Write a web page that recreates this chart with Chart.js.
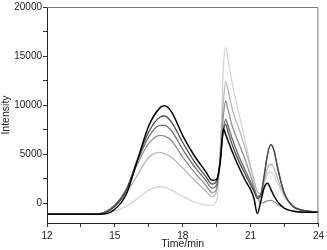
<!DOCTYPE html>
<html>
<head>
<meta charset="utf-8">
<script src="https://cdn.jsdelivr.net/npm/chart.js@4"></script>
<style>
  body { margin: 0; background: #fff; }
  #wrap { width: 327px; height: 250px; }
</style>
</head>
<body>
<div id="wrap"><canvas id="chart"></canvas></div>
<script>
const times = [12, 13, 14, 14.5, 15, 15.5, 16, 16.5, 17, 17.2, 17.5, 18, 18.5, 19, 19.3, 19.5, 19.65, 19.8, 19.9,
  20.0, 20.2, 20.5, 20.8, 21.0, 21.15, 21.3, 21.45, 21.6, 21.75, 21.9, 22.05, 22.2, 22.5, 22.9, 23.4, 24];

// six traces, darkest first
const traceBlack = [-1100, -1100, -1100, -1080, -600, 900, 4400, 7900, 9750, 9950, 9350, 6900, 4900, 3300, 2350, 2450, 4000, 7600, 7000,
  6400, 5200, 3600, 2200, 1400, 500, -1040, 200, 1600, 2050, 1400, 700, 150, -500, -800, -900, -900];
const traceA = [-1100, -1100, -1100, -1000, -300, 1300, 4500, 7300, 8800, 8900, 8300, 6200, 4300, 2800, 1950, 2300, 4200, 7400, 8050,
  7300, 5900, 4200, 2800, 1900, 1200, 500, 800, 2800, 5000, 6000, 5300, 3600, 1000, -350, -750, -900];
const traceB = [-1100, -1100, -1100, -950, -200, 1400, 4300, 6800, 7950, 7950, 7400, 5500, 3800, 2400, 1550, 1900, 4200, 7600, 8550,
  7900, 6500, 4700, 3200, 2200, 1400, 700, 900, 2800, 5000, 5950, 5200, 3500, 950, -350, -750, -900];
const traceC = [-1100, -1100, -1100, -950, -200, 1300, 4000, 6100, 6930, 6850, 6400, 4700, 3200, 1900, 1100, 1500, 4500, 9000, 10450,
  9600, 7800, 6000, 4200, 2800, 1700, 600, 0, 100, 250, 300, 150, -100, -500, -800, -900, -900];
const traceD = [-1100, -1100, -1100, -950, -300, 1000, 2900, 4700, 5200, 5050, 4700, 3600, 2400, 1300, 700, 1300, 5000, 10500, 12400,
  11600, 9500, 7500, 5300, 3600, 2400, 1200, 1000, 2200, 3600, 4000, 3500, 2500, 800, -300, -750, -900];
const traceE = [-1100, -1100, -1100, -1050, -800, -300, 500, 1350, 1720, 1650, 1350, 700, 150, -150, -200, 300, 4500, 14000, 15900,
  14800, 12100, 9000, 6000, 3800, 2100, 550, 900, 2000, 3000, 3200, 2800, 2000, 600, -400, -800, -900];

const traces = [traceBlack, traceA, traceB, traceC, traceD, traceE];
const traceColors = ['#000000', '#4a4a4a', '#6c6c6c', '#909090', '#b8b8b8', '#d6d6d6'];

const xTicks = [12, 13.5, 15, 16.5, 18, 19.5, 21, 22.5, 24];
const xLabels = [12, 15, 18, 21, 24];
const yTicks = [0, 2500, 5000, 7500, 10000, 12500, 15000, 17500, 20000];
const yLabels = [0, 5000, 10000, 15000, 20000];

const frame = {
  id: 'frame',
  afterDraw(chart) {
    const { ctx, chartArea: a } = chart;
    ctx.save();
    ctx.strokeStyle = '#7a7a7a';
    ctx.lineWidth = 1;
    ctx.beginPath();
    ctx.moveTo(a.left, a.top + 0.5);
    ctx.lineTo(a.right - 0.5, a.top + 0.5);
    ctx.lineTo(a.right - 0.5, a.bottom);
    ctx.stroke();
    ctx.restore();
  }
};

new Chart(document.getElementById('chart'), {
  type: 'line',
  data: {
    datasets: traces.map((t, i) => ({
      data: t.map((v, j) => ({ x: times[j], y: v })),
      borderColor: traceColors[i],
      borderWidth: i == 0 ? 1.5 : 1.3,
      pointRadius: 0,
      fill: false,
      cubicInterpolationMode: 'monotone'
    }))
  },
  options: {
    responsive: true,
    maintainAspectRatio: false,
    animation: false,
    layout: { padding: { top: -2, right: 0, bottom: 0, left: 0 } },
    plugins: { legend: { display: false }, tooltip: { enabled: false } },
    scales: {
      x: {
        type: 'linear',
        min: 12,
        max: 24,
        afterBuildTicks: (s) => { s.ticks = xTicks.map((v) => ({ value: v })); },
        afterFit: (s) => { s.height = 27; },
        grid: { drawOnChartArea: false, color: '#333', tickLength: 4 },
        border: { color: '#222' },
        ticks: {
          padding: 3,
          maxRotation: 0,
          autoSkip: false,
          color: '#222',
          font: { family: 'Liberation Sans', size: 10 },
          callback: (v) => xLabels.includes(v) ? String(v) : ''
        },
        title: {
          display: true,
          text: 'Time/min',
          color: '#222',
          padding: 0,
          font: { family: 'Liberation Sans', size: 10.5 }
        }
      },
      y: {
        min: -2000,
        max: 20000,
        afterBuildTicks: (s) => { s.ticks = yTicks.map((v) => ({ value: v })); },
        afterFit: (s) => { s.width = 47; },
        grid: { drawOnChartArea: false, color: '#333', tickLength: 4 },
        border: { color: '#222' },
        ticks: {
          padding: 1,
          autoSkip: false,
          color: '#222',
          font: { family: 'Liberation Sans', size: 10 },
          callback: (v) => yLabels.includes(v) ? String(v) : ''
        },
        title: {
          display: true,
          text: 'Intensity',
          color: '#222',
          padding: 0,
          font: { family: 'Liberation Sans', size: 10.5 }
        }
      }
    }
  },
  plugins: [frame]
});
</script>
</body>
</html>
